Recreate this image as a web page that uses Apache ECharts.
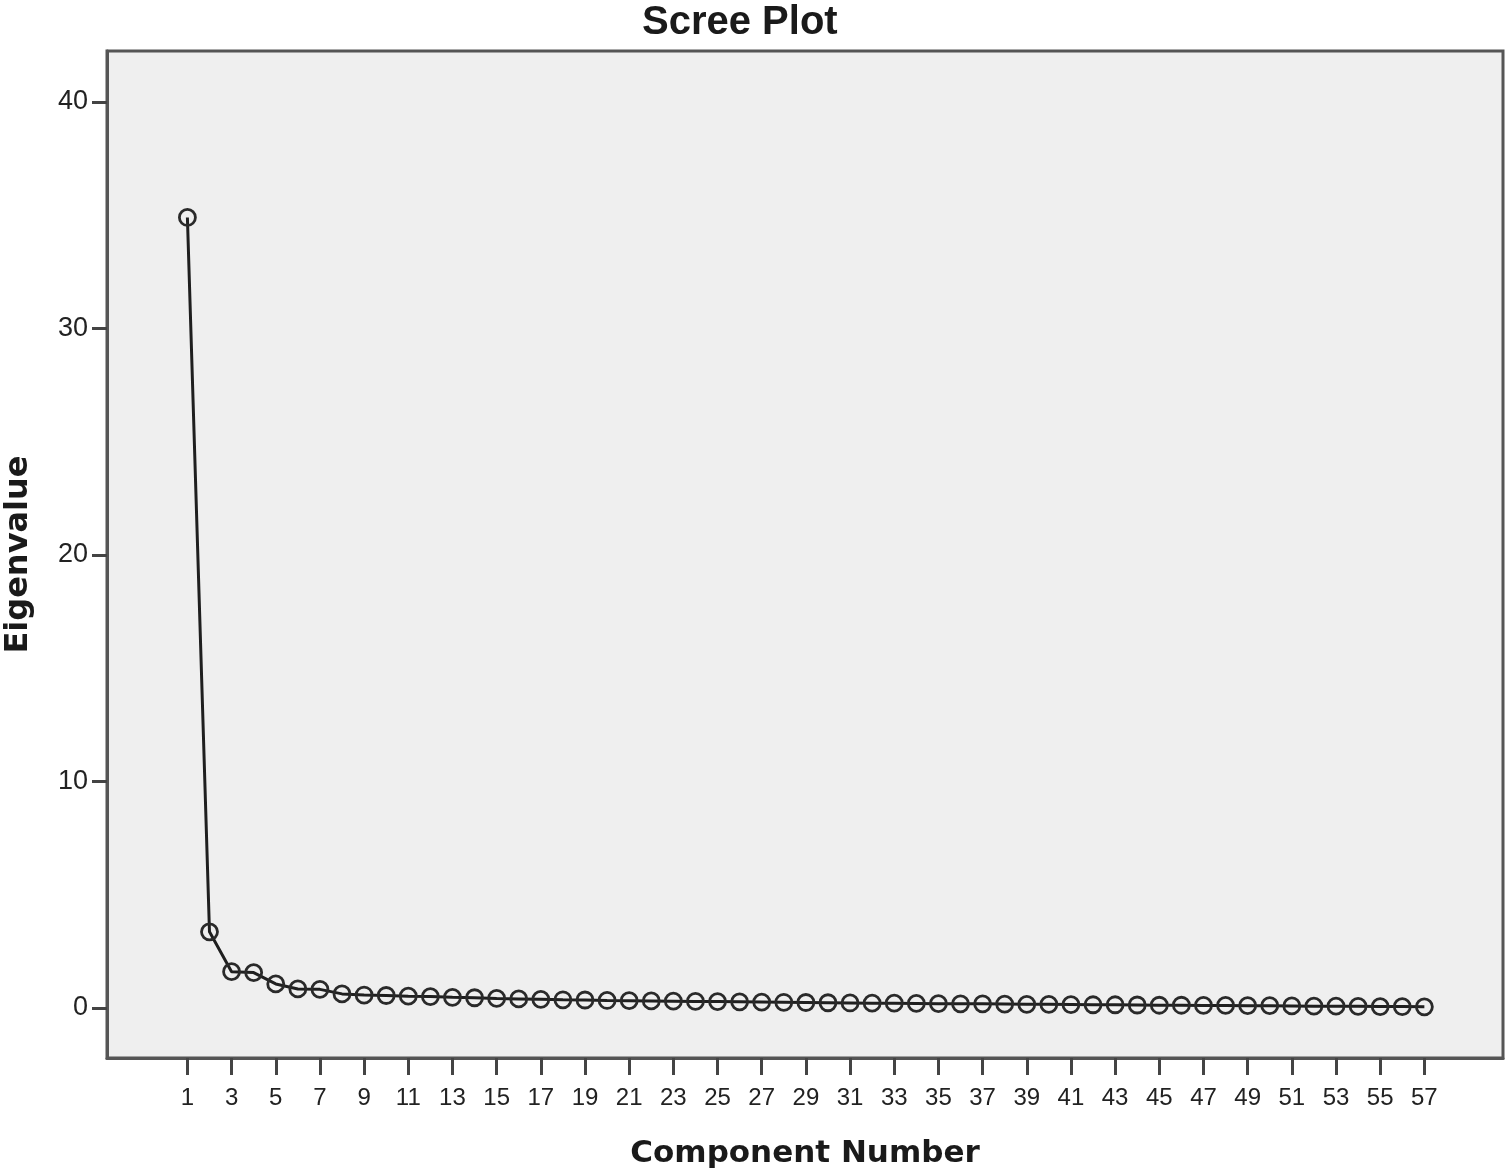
<!DOCTYPE html>
<html>
<head>
<meta charset="utf-8">
<title>Scree Plot</title>
<script src="https://cdn.jsdelivr.net/npm/echarts@6/dist/echarts.min.js"></script>
<style>
  html, body { margin: 0; padding: 0; background: #fff; }
  #chart { width: 1507px; height: 1176px; }
</style>
</head>
<body>
<div id="chart"></div>
<script>
// component numbers 1..57 and their eigenvalues
var components = [1,2,3,4,5,6,7,8,9,10,11,12,13,14,15,16,17,18,19,20,
  21,22,23,24,25,26,27,28,29,30,31,32,33,34,35,36,37,38,39,40,
  41,42,43,44,45,46,47,48,49,50,51,52,53,54,55,56,57];
var eigenvalues = [34.9,3.36,1.60,1.56,1.06,0.84,0.82,0.62,0.57,0.55,
  0.52,0.50,0.47,0.45,0.42,0.40,0.38,0.36,0.35,0.33,
  0.32,0.31,0.30,0.29,0.28,0.27,0.26,0.25,0.24,0.23,
  0.22,0.21,0.21,0.20,0.19,0.18,0.18,0.17,0.16,0.16,
  0.15,0.14,0.14,0.13,0.12,0.12,0.11,0.11,0.10,0.10,
  0.09,0.08,0.08,0.07,0.06,0.06,0.05];
var xTicks = [1,3,5,7,9,11,13,15,17,19,21,23,25,27,29,31,33,35,37,39,
  41,43,45,47,49,51,53,55,57];
var yTicks = [0,10,20,30,40];

var points = [];
for (var i = 0; i < components.length; i++) {
  points.push([components[i], eigenvalues[i]]);
}

var chart = echarts.init(document.getElementById('chart'));
var font = 'Liberation Sans, Arial, sans-serif';
var nameFont = 'DejaVu Sans, sans-serif';

chart.setOption({
  animation: false,
  backgroundColor: '#fff',
  title: {
    text: 'Scree Plot',
    left: 637,
    top: -2,
    textStyle: { fontFamily: font, fontSize: 40, fontWeight: 'bold', color: '#1a1a1a' }
  },
  grid: {
    left: 107, right: 4, top: 51, bottom: 118,
    outerBoundsMode: 'none',
    show: true,
    backgroundColor: '#efefef',
    borderColor: '#555',
    borderWidth: 3
  },
  xAxis: {
    type: 'value',
    min: -2.64,
    max: 60.56,
    name: 'Component Number',
    nameLocation: 'middle',
    nameGap: 80,
    nameTextStyle: { fontFamily: nameFont, fontSize: 31, fontWeight: 'bold', color: '#1a1a1a' },
    splitLine: { show: false },
    axisLine: { show: true, onZero: false, lineStyle: { color: '#555', width: 3 } },
    axisTick: { show: true, customValues: xTicks, length: 17, lineStyle: { color: '#444', width: 3 } },
    axisLabel: { customValues: xTicks, margin: 28, fontFamily: font, fontSize: 24, color: '#222' }
  },
  yAxis: {
    type: 'value',
    min: -2.21,
    max: 42.25,
    name: 'Eigenvalue',
    nameLocation: 'middle',
    nameGap: 72,
    nameTextStyle: { fontFamily: nameFont, fontSize: 32, fontWeight: 'bold', color: '#1a1a1a' },
    splitLine: { show: false },
    axisLine: { show: true, onZero: false, lineStyle: { color: '#555', width: 3 } },
    axisTick: { show: true, customValues: yTicks, length: 15, lineStyle: { color: '#444', width: 3 } },
    axisLabel: { customValues: yTicks, margin: 19, fontFamily: font, fontSize: 27, color: '#222' }
  },
  series: [{
    type: 'line',
    data: points,
    symbol: 'circle',
    symbolSize: 16,
    showAllSymbol: true,
    lineStyle: { color: '#1f1f1f', width: 3 },
    itemStyle: { color: 'rgba(0,0,0,0)', borderColor: '#2a2a2a', borderWidth: 2.8 }
  }]
});
</script>
</body>
</html>
